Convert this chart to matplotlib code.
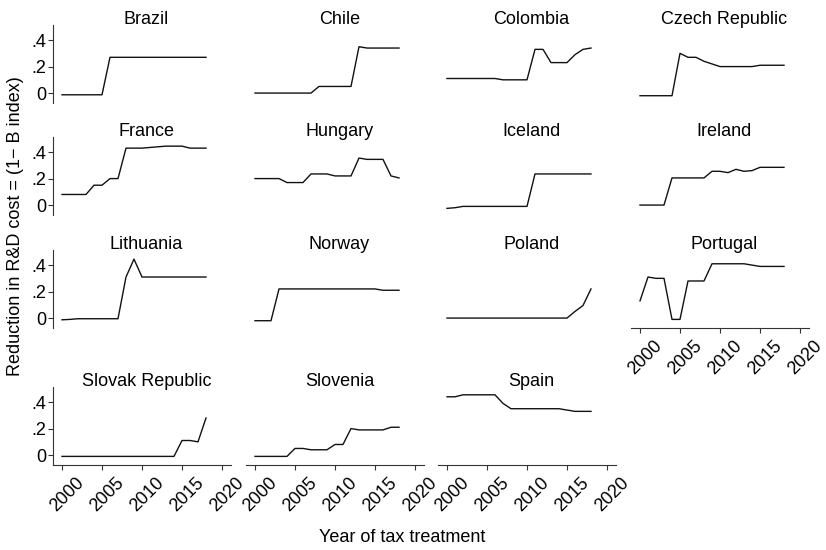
import matplotlib.pyplot as plt
import matplotlib.transforms as mtransforms
import numpy as np

plt.rcParams['font.family'] = ['Liberation Sans', 'DejaVu Sans']
plt.rcParams['font.size'] = 13

years = np.arange(2000, 2019)

# Reduction in R&D cost (1 - B index), 2000-2018
brazil = [-0.013, -0.013, -0.013, -0.013, -0.013, -0.013, 0.27, 0.27, 0.27, 0.27,
          0.27, 0.27, 0.27, 0.27, 0.27, 0.27, 0.27, 0.27, 0.27]
chile = [0.0, 0.0, 0.0, 0.0, 0.0, 0.0, 0.0, 0.0, 0.05, 0.05,
         0.05, 0.05, 0.05, 0.35, 0.34, 0.34, 0.34, 0.34, 0.34]
colombia = [0.11, 0.11, 0.11, 0.11, 0.11, 0.11, 0.11, 0.10, 0.10, 0.10,
            0.10, 0.33, 0.33, 0.23, 0.23, 0.23, 0.29, 0.33, 0.34]
czech = [-0.02, -0.02, -0.02, -0.02, -0.02, 0.30, 0.27, 0.27, 0.24, 0.22,
         0.20, 0.20, 0.20, 0.20, 0.20, 0.21, 0.21, 0.21, 0.21]
france = [0.08, 0.08, 0.08, 0.08, 0.15, 0.15, 0.20, 0.20, 0.43, 0.43,
          0.43, 0.435, 0.44, 0.445, 0.445, 0.445, 0.43, 0.43, 0.43]
hungary = [0.20, 0.20, 0.20, 0.20, 0.17, 0.17, 0.17, 0.235, 0.235, 0.235,
           0.22, 0.22, 0.22, 0.355, 0.345, 0.345, 0.345, 0.22, 0.205]
iceland = [-0.025, -0.02, -0.01, -0.01, -0.01, -0.01, -0.01, -0.01, -0.01, -0.01,
           -0.01, 0.235, 0.235, 0.235, 0.235, 0.235, 0.235, 0.235, 0.235]
ireland = [0.0, 0.0, 0.0, 0.0, 0.205, 0.205, 0.205, 0.205, 0.205, 0.255,
           0.255, 0.245, 0.27, 0.255, 0.26, 0.285, 0.285, 0.285, 0.285]
lithuania = [-0.013, -0.01, -0.005, -0.005, -0.005, -0.005, -0.005, -0.005, 0.31, 0.445,
             0.31, 0.31, 0.31, 0.31, 0.31, 0.31, 0.31, 0.31, 0.31]
norway = [-0.02, -0.02, -0.02, 0.22, 0.22, 0.22, 0.22, 0.22, 0.22, 0.22,
          0.22, 0.22, 0.22, 0.22, 0.22, 0.22, 0.21, 0.21, 0.21]
poland = [0.0, 0.0, 0.0, 0.0, 0.0, 0.0, 0.0, 0.0, 0.0, 0.0,
          0.0, 0.0, 0.0, 0.0, 0.0, 0.0, 0.05, 0.095, 0.22]
portugal = [0.13, 0.31, 0.30, 0.30, -0.01, -0.01, 0.28, 0.28, 0.28, 0.41,
            0.41, 0.41, 0.41, 0.41, 0.40, 0.39, 0.39, 0.39, 0.39]
slovakia = [-0.01, -0.01, -0.01, -0.01, -0.01, -0.01, -0.01, -0.01, -0.01, -0.01,
            -0.01, -0.01, -0.01, -0.01, -0.01, 0.11, 0.11, 0.10, 0.28]
slovenia = [-0.01, -0.01, -0.01, -0.01, -0.01, 0.05, 0.05, 0.04, 0.04, 0.04,
            0.08, 0.08, 0.20, 0.19, 0.19, 0.19, 0.19, 0.21, 0.21]
spain = [0.44, 0.44, 0.455, 0.455, 0.455, 0.455, 0.455, 0.39, 0.35, 0.35,
         0.35, 0.35, 0.35, 0.35, 0.35, 0.34, 0.33, 0.33, 0.33]

countries = ['Brazil', 'Chile', 'Colombia', 'Czech Republic',
             'France', 'Hungary', 'Iceland', 'Ireland',
             'Lithuania', 'Norway', 'Poland', 'Portugal',
             'Slovak Republic', 'Slovenia', 'Spain']
series = [brazil, chile, colombia, czech,
          france, hungary, iceland, ireland,
          lithuania, norway, poland, portugal,
          slovakia, slovenia, spain]

x_ticks = [2000, 2005, 2010, 2015, 2020]
y_ticks = [0, 0.2, 0.4]
y_tick_labels = ['0', '.2', '.4']

W, H = 826, 550
fig = plt.figure(figsize=(W / 100, H / 100), dpi=100)

# panel geometry in pixels
col_left = [53, 246, 438, 631]
row_top = [25, 137, 250, 387]
pw, ph = 178, 78
axis_color = '#333333'

# nudge the rotated year labels a little to the right of their ticks
label_shift = mtransforms.ScaledTranslation(5.5 / 100, 0, fig.dpi_scale_trans)

for i, (name, vals) in enumerate(zip(countries, series)):
    r, c = divmod(i, 4)
    ax = fig.add_axes([col_left[c] / W, 1 - (row_top[r] + ph) / H, pw / W, ph / H])
    ax.plot(years, vals, color='#111111', lw=1.0)
    ax.set_xlim(1998.875, 2021.125)
    ax.set_ylim(-0.075, 0.514)
    for s in ['top', 'right']:
        ax.spines[s].set_visible(False)

    show_y = c == 0
    show_x = r == 3 or name == 'Portugal'
    ax.spines['left'].set_visible(show_y)
    ax.spines['bottom'].set_visible(show_x)
    for s in ['left', 'bottom']:
        ax.spines[s].set_color(axis_color)
        ax.spines[s].set_linewidth(0.8)

    ax.tick_params(color=axis_color, width=0.8, length=3.6, labelsize=13)
    if show_y:
        ax.set_yticks(y_ticks)
        ax.set_yticklabels(y_tick_labels)
        ax.tick_params(axis='y', pad=1)
    else:
        ax.set_yticks([])
    if show_x:
        ax.set_xticks(x_ticks)
        ax.set_xticklabels([str(t) for t in x_ticks], rotation=45,
                           ha='center', va='top')
        ax.tick_params(axis='x', pad=3)
        for lab in ax.get_xticklabels():
            lab.set_transform(lab.get_transform() + label_shift)
    else:
        ax.set_xticks([])

    ax.text(0.5 + 4.5 / pw, 1 + 1 / ph, name, transform=ax.transAxes,
            ha='center', va='baseline', fontsize=13)

fig.text(16 / W, 1 - 226 / H, 'Reduction in R&D cost = (1\u2212 B index)',
         rotation=90, ha='center', va='center', fontsize=13)
fig.text(402 / W, 1 - 538 / H, 'Year of tax treatment',
         ha='center', va='center', fontsize=13)

fig.savefig('out.png', dpi=100)
